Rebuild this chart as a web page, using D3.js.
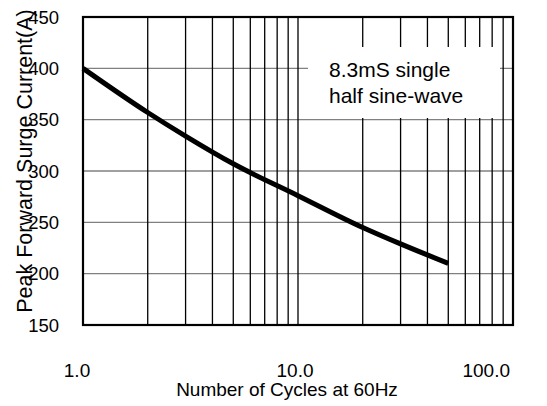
<!DOCTYPE html>
<html>
<head>
<meta charset="utf-8">
<script src="https://cdn.jsdelivr.net/npm/d3@7"></script>
<style>
  body { margin: 0; background: #fff; }
  text { font-family: Arial, "Liberation Sans", sans-serif; fill: #000; }
</style>
</head>
<body>
<svg id="chart" width="547" height="406"></svg>
<script>
// surge curve
const cycles = [1, 2, 3, 5, 10, 20, 30, 50];
const current = [400, 357, 334, 307, 276, 245, 229, 210];

const yTicks = [150, 200, 250, 300, 350, 400, 450];
const xLabels = ["1.0", "10.0", "100.0"];
const xLabelVals = [1, 10, 100];
const gridCycles = [2, 3, 4, 5, 6, 7, 8, 9, 10, 20, 30, 40, 50, 60, 70, 80, 90];
const noteLines = ["8.3mS single", "half sine-wave"];

const margin = {left: 83, top: 17, right: 34, bottom: 81};
const width = 547, height = 406;

const svg = d3.select("#chart");

const x = d3.scaleLog()
  .domain([1, 100])
  .range([margin.left, width - margin.right]);

const y = d3.scaleLinear()
  .domain([150, 450])
  .range([height - margin.bottom, margin.top]);

// horizontal grid (grey)
svg.append("g")
  .selectAll("line")
  .data(yTicks.slice(1, -1))
  .join("line")
  .attr("x1", x(1)).attr("x2", x(100))
  .attr("y1", d => y(d)).attr("y2", d => y(d))
  .attr("stroke", "#808080")
  .attr("stroke-width", 1.3);

// vertical grid (black)
svg.append("g")
  .selectAll("line")
  .data(gridCycles)
  .join("line")
  .attr("x1", d => x(d)).attr("x2", d => x(d))
  .attr("y1", y(150)).attr("y2", y(450))
  .attr("stroke", "#000")
  .attr("stroke-width", 1.3);

// frame
svg.append("rect")
  .attr("x", x(1)).attr("y", y(450))
  .attr("width", x(100) - x(1))
  .attr("height", y(150) - y(450))
  .attr("fill", "none")
  .attr("stroke", "#000")
  .attr("stroke-width", 2.2);

// note box
svg.append("rect")
  .attr("x", 308).attr("y", 47)
  .attr("width", 192).attr("height", 71)
  .attr("fill", "#fff");

svg.append("text")
  .attr("x", 329).attr("y", 77)
  .style("font-size", "21px")
  .selectAll("tspan")
  .data(noteLines)
  .join("tspan")
  .attr("x", 329)
  .attr("dy", (d, i) => i ? 26 : 0)
  .text(d => d);

// curve
const line = d3.line()
  .x(d => x(d[0]))
  .y(d => y(d[1]))
  .curve(d3.curveMonotoneX);

svg.append("path")
  .datum(cycles.map((c, i) => [c, current[i]]))
  .attr("d", line)
  .attr("fill", "none")
  .attr("stroke", "#000")
  .attr("stroke-width", 5);

// y tick labels
svg.append("g")
  .selectAll("text")
  .data(yTicks)
  .join("text")
  .attr("x", 59)
  .attr("y", d => y(d))
  .attr("dy", "0.36em")
  .attr("text-anchor", "end")
  .style("font-size", "18.5px")
  .text(d => d);

// x tick labels (excel style placement)
svg.append("g")
  .selectAll("text")
  .data(xLabelVals)
  .join("text")
  .attr("x", (d, i) => i == 2 ? x(d) - 3 : x(d) - (i == 0 ? 6 : 3))
  .attr("y", 377)
  .attr("text-anchor", (d, i) => i == 2 ? "end" : "middle")
  .style("font-size", "19px")
  .text((d, i) => xLabels[i]);

svg.append("text")
  .attr("x", 287)
  .attr("y", 396)
  .attr("text-anchor", "middle")
  .style("font-size", "19px")
  .text("Number of Cycles at 60Hz");

svg.append("text")
  .attr("transform", "translate(32,161) rotate(-90)")
  .attr("text-anchor", "middle")
  .style("font-size", "21.5px")
  .text("Peak Forward Surge Current(A)");
</script>
</body>
</html>
